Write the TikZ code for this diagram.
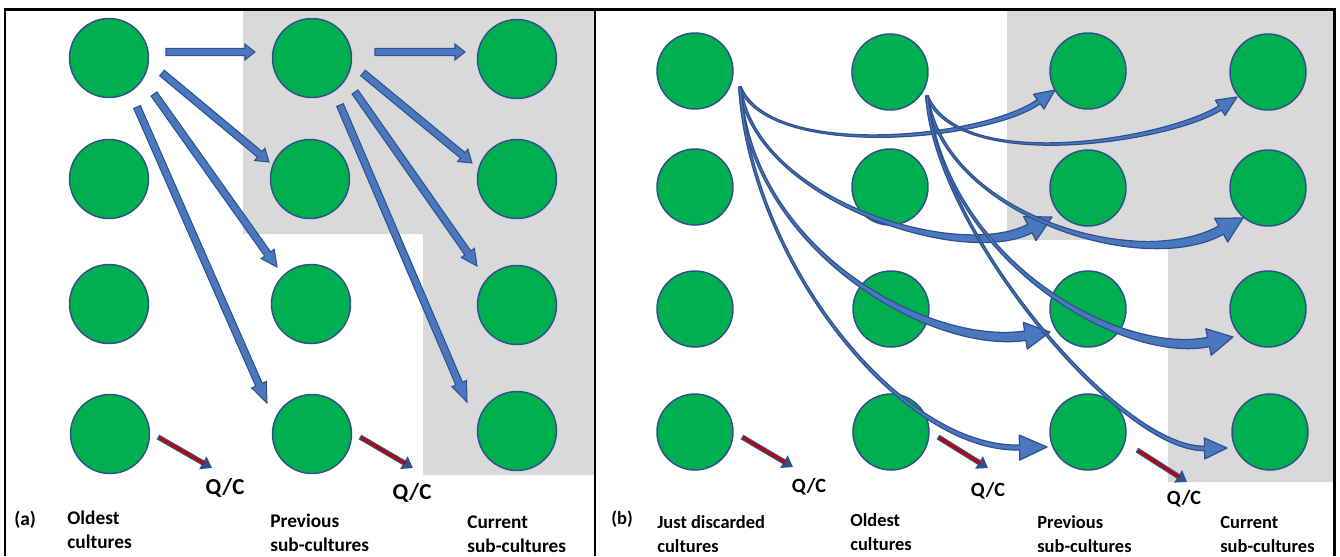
\documentclass[tikz,border=0pt]{standalone}
\usepackage{fontspec}
\setmainfont{Carlito}
\usepackage{tikz}
\usetikzlibrary{positioning, arrows.meta, calc}
\definecolor{cgreen}{HTML}{00B050}
\definecolor{edgeblue}{HTML}{2F528F}
\definecolor{arrowblue}{HTML}{4A78BE}
\definecolor{qcred}{HTML}{C00000}
\definecolor{greybg}{HTML}{D9D9D9}
\newcommand{\fatarrow}[3][0.24cm]{%
  \coordinate (fa-s) at (#2);
  \coordinate (fa-t) at (#3);
  \coordinate (fa-b) at ($(fa-t)!#1!(fa-s)$);
  \draw[fatarr] ($(fa-s)!0.072cm!90:(fa-t)$) -- ($(fa-b)!0.072cm!90:(fa-t)$)
    -- ($(fa-b)!0.16cm!90:(fa-t)$) -- (fa-t) -- ($(fa-b)!0.16cm!-90:(fa-t)$)
    -- ($(fa-b)!0.072cm!-90:(fa-t)$) -- ($(fa-s)!0.072cm!-90:(fa-t)$) -- cycle;}
\newcommand{\swoosh}[7]{%
  \coordinate (sw-s) at (#1);
  \coordinate (sw-a) at (#2);
  \coordinate (sw-c) at (#3);
  \coordinate (sw-t) at (#4);
  \coordinate (sw-sl) at ($(sw-s)!0.025cm!90:(sw-a)$);
  \coordinate (sw-sr) at ($(sw-s)!0.025cm!-90:(sw-a)$);
  \coordinate (sw-b) at ($(sw-t)!#7!(sw-c)$);
  \coordinate (sw-l) at ($(sw-b)!#5!90:(sw-t)$);
  \coordinate (sw-r) at ($(sw-b)!#5!-90:(sw-t)$);
  \draw[swoosh] (sw-sl) .. controls ($(sw-a)+(sw-sl)-(sw-s)$) and ($(sw-c)+(sw-l)-(sw-b)$) .. (sw-l)
    -- ($(sw-b)!#6!90:(sw-t)$) -- (sw-t) -- ($(sw-b)!#6!-90:(sw-t)$) -- (sw-r)
    .. controls ($(sw-c)+(sw-r)-(sw-b)$) and ($(sw-a)+(sw-sr)-(sw-s)$) .. (sw-sr) -- cycle;}
\newcommand{\qcarrow}[2]{%
  \draw[qcout] (#1) -- (#2);
  \draw[qcin] (#1) -- (#2);}

\begin{document}
\begin{tikzpicture}[x=0.02cm, y=-0.02cm,
  cult/.style={circle, draw=edgeblue, fill=cgreen, line width=0.85pt,
               minimum size=1.58cm, inner sep=0pt},
  cultb/.style={cult, minimum size=1.52cm},
  fatarr/.style={draw=edgeblue, fill=arrowblue, line width=0.6pt},
  swoosh/.style={draw=edgeblue, fill=arrowblue, line width=0.7pt, line join=round},
  qcout/.style={draw=edgeblue, line width=3pt, -{Triangle[length=6pt, width=8pt]}},
  qcin/.style={draw=qcred, line width=1.6pt, shorten >=5pt, shorten <=0.8pt},
  qc/.style={font=\bfseries\fontsize{13}{15}\selectfont, inner sep=0pt},
  qcb/.style={qc, font=\bfseries\fontsize{11.5}{14}\selectfont},
  lbl/.style={font=\bfseries\fontsize{11}{13.6}\selectfont, align=left,
              anchor=base west, inner sep=0pt},
  lblb/.style={lbl, font=\bfseries\fontsize{10.5}{13.6}\selectfont},
  panelline/.style={line width=1.7pt}
]
\useasboundingbox (0,0) rectangle (1340,556);
\fill[greybg] (243,9) -- (595,9) -- (595,475) -- (423,475) -- (423,234) -- (243,234) -- cycle;
\fill[greybg] (1007,9) -- (1334,9) -- (1334,482) -- (1168,482) -- (1168,240) -- (1007,240) -- cycle;
\draw[panelline] (5,556) -- (5,9) -- (1334,9) -- (1334,556);
\draw[panelline] (595,9) -- (595,556);

\node[cult] (oa1) at (109,58) {};
\node[cult] (oa2) at (109,179) {};
\node[cult] (oa3) at (109,304) {};
\node[cult] (oa4) at (110,434) {};
\node[cult] (pa1) at (312,58) {};
\node[cult] (pa2) at (310,179) {};
\node[cult] (pa3) at (311,304) {};
\node[cult] (pa4) at (312,434) {};
\node[cult] (ca1) at (517,59) {};
\node[cult] (ca2) at (517,179) {};
\node[cult] (ca3) at (517,305) {};
\node[cult] (ca4) at (517,431) {};

\node[cultb] (jb1) at (695,71) {};
\node[cultb] (jb2) at (695,187) {};
\node[cultb] (jb3) at (695,309) {};
\node[cultb] (jb4) at (695,432) {};
\node[cultb] (ob1) at (890,72) {};
\node[cultb] (ob2) at (890,187) {};
\node[cultb] (ob3) at (891,309) {};
\node[cultb] (ob4) at (891,432) {};
\node[cultb] (pb1) at (1088,71) {};
\node[cultb] (pb2) at (1088,188) {};
\node[cultb] (pb3) at (1088,309) {};
\node[cultb] (pb4) at (1088,432) {};
\node[cultb] (cb1) at (1268,72) {};
\node[cultb] (cb2) at (1268,188) {};
\node[cultb] (cb3) at (1268,309) {};
\node[cultb] (cb4) at (1270,432) {};

\fatarrow[0.2cm]{$(oa1)+(57,-6)$}{$(pa1)+(-57,-6)$}
\fatarrow{$(oa1)+(53,15)$}{$(pa2)+(-41,-17)$}
\fatarrow[0.32cm]{$(oa1)+(45,36)$}{$(pa3)+(-34,-37)$}
\fatarrow[0.4cm]{$(oa1)+(28,49)$}{$(pa4)+(-45,-31)$}
\fatarrow[0.2cm]{$(pa1)+(63,-6)$}{$(ca1)+(-52,-7)$}
\fatarrow{$(pa1)+(51,15)$}{$(ca2)+(-45,-16)$}
\fatarrow[0.32cm]{$(pa1)+(43,34)$}{$(ca3)+(-40,-39)$}
\fatarrow[0.4cm]{$(pa1)+(28,47)$}{$(ca4)+(-50,-29)$}

\swoosh{$(jb1)+(45,16)$}{770,160}{985,140}{$(pb1)+(-33,19)$}{0.05cm}{0.18cm}{0.4cm}
\swoosh{$(jb1)+(45,16)$}{755,200}{960,265}{$(pb2)+(-36,29)$}{0.095cm}{0.27cm}{0.5cm}
\swoosh{$(jb1)+(45,16)$}{750,250}{930,350}{$(pb3)+(-38,23)$}{0.095cm}{0.27cm}{0.5cm}
\swoosh{$(jb1)+(45,16)$}{750,260}{900,450}{$(pb4)+(-41,15)$}{0.05cm}{0.25cm}{0.55cm}
\swoosh{$(ob1)+(37,24)$}{960,175}{1170,140}{$(cb1)+(-31,25)$}{0.05cm}{0.18cm}{0.4cm}
\swoosh{$(ob1)+(37,24)$}{945,215}{1140,275}{$(cb2)+(-25,30)$}{0.095cm}{0.27cm}{0.5cm}
\swoosh{$(ob1)+(37,24)$}{945,260}{1120,360}{$(cb3)+(-35,28)$}{0.095cm}{0.27cm}{0.5cm}
\swoosh{$(ob1)+(37,24)$}{935,230}{1120,450}{$(cb4)+(-43,16)$}{0.045cm}{0.21cm}{0.45cm}

\node[qc] (qa1) at (225,488) {Q/C};
\node[qc] (qa2) at (412,493) {Q/C};
\node[qcb] (qb1) at (809,487) {Q/C};
\node[qcb] (qb2) at (988,491) {Q/C};
\node[qcb] (qb3) at (1184,499) {Q/C};
\qcarrow{$(oa4)+(48,3)$}{$(qa1)+(-13,-20)$}
\qcarrow{$(pa4)+(48,3)$}{$(qa2)+(1,-25)$}
\qcarrow{$(jb4)+(47,5)$}{$(qb1)+(-16,-20)$}
\qcarrow{$(ob4)+(47,5)$}{$(qb2)+(0,-23)$}
\qcarrow{$(pb4)+(49,18)$}{$(qb3)+(3,-17)$}

\node[lbl] (taga) at (14,525) {(a)};
\node[lbl] (la1) at (67,548) {Oldest\\cultures};
\node[lbl] (la2) at (270,551) {Previous\\sub-cultures};
\node[lbl] (la3) at (467,552) {Current\\sub-cultures};
\node[lblb] (tagb) at (611,524) {(b)};
\node[lblb] (lb1) at (657,552) {Just discarded\\cultures};
\node[lblb] (lb2) at (850,550) {Oldest\\cultures};
\node[lblb] (lb3) at (1037,552) {Previous\\sub-cultures};
\node[lblb] (lb4) at (1220,552) {Current\\sub-cultures};
\end{tikzpicture}
\end{document}
